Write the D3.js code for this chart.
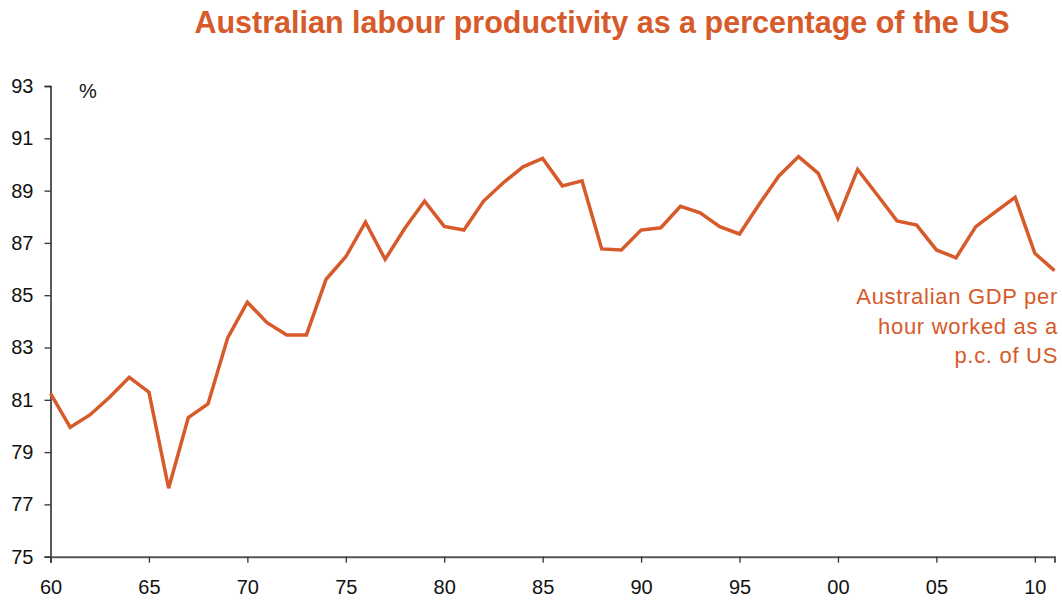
<!DOCTYPE html>
<html>
<head>
<meta charset="utf-8">
<script src="https://cdn.jsdelivr.net/npm/d3@7"></script>
<style>
  html, body { margin: 0; padding: 0; background: #fff; }
  svg { display: block; font-family: "Liberation Sans", Arial, sans-serif; }
</style>
</head>
<body>
<svg id="chart" width="1062" height="600"></svg>
<script>
// Australian GDP per hour worked relative to the US, per cent
const years = d3.range(1960, 2012);
const productivity = [
  81.25, 79.95, 80.42, 81.10, 81.86, 81.29, 77.62, 80.32, 80.84, 83.37,
  84.73, 83.95, 83.48, 83.48, 85.61, 86.47, 87.79, 86.37, 87.56, 88.60,
  87.63, 87.49, 88.60, 89.30, 89.91, 90.23, 89.18, 89.37, 86.77, 86.73,
  87.49, 87.58, 88.40, 88.15, 87.62, 87.34, 88.48, 89.56, 90.30, 89.66,
  87.94, 89.81, 88.83, 87.84, 87.68, 86.73, 86.43, 87.62, 88.19, 88.74,
  86.60, 85.94
];
const xTicks = d3.range(1960, 2011, 5);
const yTicks = d3.range(75, 94, 2);
const titleText = "Australian labour productivity as a percentage of the US";
const seriesLabel = ["Australian GDP per", "hour worked as a", "p.c. of US"];
const unitLabel = "%";

const orange = "#D65A2A";
const svg = d3.select("#chart");
const plotLeft = 50.5, plotRight = 1054.5, plotTop = 86, plotBottom = 556.7;

const x = d3.scaleLinear().domain([1960, 2011]).range([plotLeft, plotRight]);
const y = d3.scaleLinear().domain([75, 93]).range([plotBottom, plotTop]);

// title
svg.append("text")
  .attr("x", 602).attr("y", 33)
  .attr("text-anchor", "middle")
  .attr("fill", orange)
  .attr("font-weight", "bold")
  .attr("font-size", 30.5)
  .text(titleText);

// y axis
const yAxis = svg.append("g")
  .attr("transform", `translate(${plotLeft},0)`)
  .call(d3.axisLeft(y).tickValues(yTicks).tickSize(6).tickPadding(11).tickFormat(d3.format("d")));
yAxis.select(".domain").attr("stroke", "#000").attr("stroke-width", 1.3);
yAxis.selectAll(".tick line").attr("stroke", "#333").attr("stroke-width", 1.3);
yAxis.selectAll(".tick text")
  .attr("font-size", 20).attr("fill", "#111")
  .attr("font-family", "Liberation Sans, Arial, sans-serif");

// x axis
const xAxis = svg.append("g")
  .attr("transform", `translate(0,${plotBottom})`)
  .call(d3.axisBottom(x).tickValues(xTicks).tickSize(6).tickPadding(17)
    .tickFormat(d => String(d % 100).padStart(2, "0")));
xAxis.select(".domain").attr("stroke", "#555").attr("stroke-width", 2);
xAxis.selectAll(".tick line").attr("stroke", "#333").attr("stroke-width", 1.3);
xAxis.selectAll(".tick text")
  .attr("font-size", 20).attr("fill", "#111")
  .attr("font-family", "Liberation Sans, Arial, sans-serif");

// unit label
svg.append("text")
  .attr("x", 79).attr("y", 98)
  .attr("font-size", 20).attr("fill", "#111")
  .text(unitLabel);

// series line
const line = d3.line()
  .x((d, i) => x(years[i]))
  .y(d => y(d));
svg.append("path")
  .datum(productivity)
  .attr("fill", "none")
  .attr("stroke", orange)
  .attr("stroke-width", 3.5)
  .attr("stroke-linejoin", "miter")
  .attr("d", line);

// series annotation
const ann = svg.append("text")
  .attr("text-anchor", "end")
  .attr("fill", orange)
  .attr("font-size", 22)
  .attr("letter-spacing", 0.7);
seriesLabel.forEach((t, i) => {
  ann.append("tspan").attr("x", 1058).attr("y", 304 + i * 29.5).text(t);
});
</script>
</body>
</html>
